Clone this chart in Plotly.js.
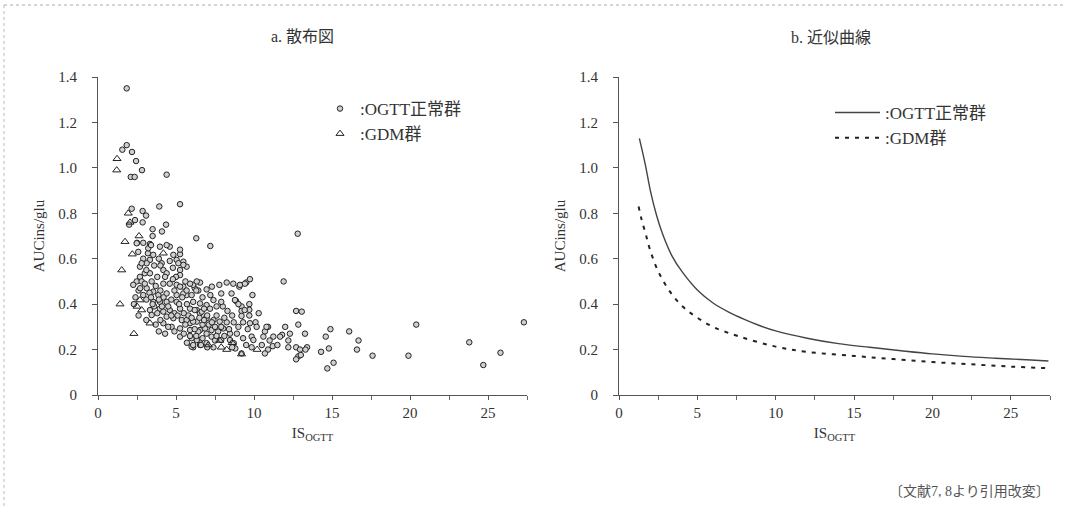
<!DOCTYPE html>
<html>
<head>
<meta charset="utf-8">
<script src="https://cdn.plot.ly/plotly-3.0.1.min.js"></script>
<style>html,body{margin:0;padding:0;background:#fff;}#chart{width:1066px;height:506px;}</style>
</head>
<body>
<div id="chart"></div>
<script>
// ---- Data ----
const normalX = [1.84,1.56,1.84,2.18,2.44,2.82,2.1,2.35,4.4,3.93,5.26,2.16,2.86,3.08,2.37,2.0,2.86,4.36,3.5,2.5,3.33,6.3,7.2,12.8,11.9,12.7,13.06,12.84,11.8,12.3,12.2,12.2,12.7,12.95,13.27,13.4,13.3,12.84,13.0,12.7,14.9,14.6,14.8,14.3,15.1,14.7,16.1,16.7,16.6,17.6,19.9,20.4,23.8,24.7,25.8,27.3,
8.25,9.06,9.5,9.74,8.56,9.9,8.85,9.7,9.2,9.2,9.7,9.2,9.7,10.1,9.74,9.3,8.7,8.25,9.6,10.9,10.7,11.67,9.85,9.96,9.85,11.2,10.9,10.7,9.2,8.8,8.7,8.46,7.9,7.4,6.96,6.54,6.1,
5.68,5.47,5.26,6.54,6.2,7.3,7.78,7.9,2.48,4.6,5.26,3.2,3.54,2.58,3.33,3.12,5.04,5.47,4.08,2.69,3.0,3.33,4.19,4.4,5.26,5.26,2.69,2.48,2.8,3.44,2.26,3.12,4.19,4.6,5.04,5.47,6.1,3.54,3.87,4.4,5.04,5.68,3.54,3.97,4.4,5.04,6.1,6.54,6.96,3.33,3.97,4.19,4.6,5.26,5.9,6.33,6.54,6.96,3.44,4.4,4.83,5.37,4.19,4.72,5.26,5.9,6.33,6.54,6.96,5.26,6.33,6.54,6.0,
5.26,5.47,5.68,5.9,6.33,6.43,7.4,7.6,7.18,6.65,6.2,5.68,6.1,6.96,7.4,7.8,5.9,6.43,6.86,7.28,7.7,6.0,7.28,8.46,8.03,8.67,9.1,9.42,8.78,6.96,6.3,10.17,10.8,11.24,10.6,3.22,3.97,4.4,4.83,5.15,9.4,6.1,
2.9,3.1,3.3,2.6,2.4,3.7,3.8,4.0,4.2,4.7,4.9,3.6,3.8,4.9,5.1,5.5,5.7,5.8,6.0,6.7,6.8,7.1,7.5,7.6,8.1,8.3,8.0,7.9,4.5,4.9,5.5,5.7,6.3,6.7,7.0,7.5,8.1,8.9,9.0,4.0,3.7,3.9,4.3,2.9,3.6,2.3,2.6,3.1,5.0,5.6,6.0,7.2,6.7,10.3,10.5,11.5,11.0,12.0,9.3,8.6,9.5,3.5,4.1,4.6,3.9,4.8,
2.7,3.0,3.4,3.5,3.9,4.1,4.5,4.7,5.2,5.4,5.6,5.9,6.2,6.5,6.8,7.0,7.3,7.6,7.9,8.4,8.6,9.0,4.3,4.8,3.1,2.8,3.4,2.9,4.0,6.6];
const normalY = [1.35,1.08,1.10,1.07,1.03,0.99,0.96,0.96,0.97,0.83,0.84,0.82,0.81,0.79,0.77,0.75,0.76,0.75,0.70,0.67,0.665,0.69,0.656,0.71,0.50,0.37,0.367,0.31,0.265,0.27,0.24,0.21,0.21,0.20,0.27,0.21,0.20,0.17,0.176,0.157,0.29,0.257,0.205,0.19,0.142,0.117,0.28,0.24,0.20,0.173,0.173,0.31,0.232,0.132,0.186,0.32,
0.495,0.477,0.495,0.51,0.447,0.44,0.414,0.40,0.39,0.37,0.375,0.348,0.35,0.32,0.316,0.32,0.32,0.32,0.29,0.30,0.28,0.257,0.257,0.242,0.21,0.215,0.20,0.183,0.183,0.205,0.228,0.242,0.242,0.21,0.228,0.242,0.21,
0.565,0.587,0.62,0.495,0.47,0.477,0.485,0.447,0.668,0.653,0.64,0.624,0.617,0.63,0.595,0.58,0.595,0.573,0.58,0.565,0.536,0.536,0.55,0.536,0.55,0.528,0.52,0.50,0.50,0.50,0.485,0.47,0.49,0.49,0.485,0.477,0.485,0.455,0.44,0.447,0.44,0.44,0.41,0.41,0.41,0.41,0.41,0.403,0.396,0.374,0.38,0.367,0.374,0.38,0.38,0.374,0.36,0.345,0.352,0.345,0.338,0.33,0.316,0.30,0.293,0.316,0.323,0.286,0.27,0.257,0.242,0.22,0.213,
0.477,0.447,0.46,0.49,0.50,0.46,0.418,0.39,0.38,0.367,0.374,0.33,0.323,0.338,0.33,0.323,0.286,0.279,0.293,0.286,0.279,0.25,0.257,0.27,0.293,0.49,0.485,0.49,0.418,0.465,0.46,0.30,0.30,0.257,0.257,0.646,0.653,0.66,0.617,0.58,0.374,0.22,
0.44,0.42,0.45,0.46,0.43,0.48,0.52,0.46,0.43,0.42,0.46,0.39,0.36,0.36,0.35,0.36,0.40,0.35,0.34,0.31,0.33,0.31,0.30,0.35,0.34,0.37,0.39,0.41,0.30,0.28,0.27,0.23,0.26,0.25,0.21,0.24,0.26,0.27,0.30,0.33,0.31,0.28,0.27,0.60,0.57,0.40,0.35,0.33,0.52,0.50,0.44,0.44,0.43,0.36,0.22,0.22,0.24,0.30,0.25,0.21,0.22,0.73,0.72,0.59,0.60,0.56,
0.47,0.49,0.43,0.40,0.42,0.39,0.39,0.35,0.40,0.43,0.31,0.26,0.29,0.34,0.38,0.35,0.32,0.26,0.30,0.29,0.35,0.40,0.52,0.51,0.55,0.58,0.66,0.67,0.57,0.22];

const gdmX = [1.22,1.2,1.94,2.05,1.73,2.63,1.52,1.41,2.3,2.69,2.8,3.33,4.19,2.5,2.2,7.9,8.25,8.6,7.8,7.07,9.2,10.2];
const gdmY = [1.04,0.99,0.80,0.76,0.675,0.70,0.55,0.40,0.27,0.418,0.374,0.316,0.624,0.39,0.62,0.21,0.20,0.23,0.24,0.22,0.18,0.20];

const fitNormalX = [1.3,1.5,1.72,2.0,2.4,2.8,3.36,4,5,6,7,8,9,10,12,14,16,18,20,22,24,26,27.4];
const fitNormalY = [1.13,1.07,1.0,0.9,0.79,0.705,0.615,0.545,0.462,0.405,0.365,0.333,0.305,0.282,0.25,0.226,0.21,0.195,0.181,0.17,0.162,0.155,0.15];
const fitGdmX = [1.25,1.45,1.7,2.0,2.5,3.25,4.1,4.9,6,7.7,10,12,15,17.5,20,22.5,25,27.4];
const fitGdmY = [0.83,0.77,0.71,0.635,0.545,0.455,0.387,0.345,0.30,0.257,0.213,0.19,0.172,0.158,0.145,0.135,0.125,0.118];

const xTickVals = [0,5,10,15,20,25];
const xTickText = ['0','5','10','15','20','25'];
const xMinorVals = [2.5,7.5,12.5,17.5,22.5,27.5];
const yTickVals = [0,0.2,0.4,0.6,0.8,1.0,1.2,1.4];
const yTickText = ['0','0.2','0.4','0.6','0.8','1.0','1.2','1.4'];

const panelTitles = ['a. 散布図','b. 近似曲線'];
const seriesNames = [':OGTT正常群',':GDM群'];
const yTitle = 'AUCins/glu';
const xTitle = 'IS<sub>OGTT</sub>';
const caption = '〔文献7, 8より引用改変〕';

// ---- Layout helpers ----
const W = 1066, H = 506;
const fx = p => p / W;
const fy = p => 1 - p / H;
const FONT = "'Liberation Serif', 'Noto Sans CJK JP', serif";
const INK = '#333';

function xAxis(d0, d1, anchor) {
  return {
    domain: [fx(d0), fx(d1)], range: [0, 27.5], anchor: anchor,
    tickmode: 'array', tickvals: xTickVals, ticktext: xTickText,
    minor: {tickmode: 'array', tickvals: xMinorVals, ticks: 'outside', ticklen: 4, tickcolor: '#666', tickwidth: 1, showgrid: false},
    showline: true, linecolor: '#555', linewidth: 1,
    ticks: 'outside', ticklen: 4, tickcolor: '#555', tickwidth: 1,
    showgrid: false, zeroline: false, fixedrange: true,
    tickfont: {family: FONT, size: 15, color: INK},
    title: {text: xTitle, font: {family: FONT, size: 15, color: INK}, standoff: 7}
  };
}
function yAxis(anchor) {
  return {
    domain: [fy(395), fy(77)], range: [0, 1.4], anchor: anchor,
    tickmode: 'array', tickvals: yTickVals, ticktext: yTickText,
    showline: true, linecolor: '#555', linewidth: 1,
    ticks: 'outside', ticklen: 5, tickcolor: '#555', tickwidth: 1,
    ticklabelstandoff: 12,
    showgrid: false, zeroline: false, fixedrange: true,
    tickfont: {family: FONT, size: 15, color: INK},
    title: {text: yTitle, font: {family: FONT, size: 15, color: INK}, standoff: 10}
  };
}

const traces = [
  {x: normalX, y: normalY, xaxis: 'x', yaxis: 'y', type: 'scatter', mode: 'markers',
   name: seriesNames[0], legend: 'legend',
   marker: {symbol: 'circle', size: 5.5, color: '#d0d0d0', line: {color: '#222', width: 1}}},
  {x: gdmX, y: gdmY, xaxis: 'x', yaxis: 'y', type: 'scatter', mode: 'markers',
   name: seriesNames[1], legend: 'legend',
   marker: {symbol: 'triangle-up-open', size: 7, color: '#222', line: {color: '#222', width: 1}}},
  {x: fitNormalX, y: fitNormalY, xaxis: 'x2', yaxis: 'y2', type: 'scatter', mode: 'lines',
   name: seriesNames[0], legend: 'legend2',
   line: {color: '#444', width: 1.4, shape: 'spline', smoothing: 1}},
  {x: fitGdmX, y: fitGdmY, xaxis: 'x2', yaxis: 'y2', type: 'scatter', mode: 'lines',
   name: seriesNames[1], legend: 'legend2',
   line: {color: '#222', width: 2, dash: '4px,6px', shape: 'spline', smoothing: 1}}
];

const layout = {
  width: W, height: H,
  margin: {l: 0, r: 0, t: 0, b: 0},
  paper_bgcolor: '#fff', plot_bgcolor: 'rgba(0,0,0,0)',
  font: {family: FONT, size: 15, color: INK},
  xaxis: xAxis(98, 527, 'y'),
  yaxis: yAxis('x'),
  xaxis2: xAxis(619, 1050, 'y2'),
  yaxis2: yAxis('x2'),
  legend: {x: fx(320), y: fy(91), xanchor: 'left', yanchor: 'top',
           bgcolor: 'rgba(0,0,0,0)', font: {family: FONT, size: 17, color: INK}},
  legend2: {x: fx(830), y: fy(95), xanchor: 'left', yanchor: 'top', itemwidth: 45,
            bgcolor: 'rgba(0,0,0,0)', font: {family: FONT, size: 17, color: INK}},
  annotations: [
    {text: panelTitles[0], xref: 'paper', yref: 'paper', x: fx(302), y: fy(36),
     xanchor: 'center', yanchor: 'middle', showarrow: false, font: {family: FONT, size: 16, color: INK}},
    {text: panelTitles[1], xref: 'paper', yref: 'paper', x: fx(831), y: fy(37),
     xanchor: 'center', yanchor: 'middle', showarrow: false, font: {family: FONT, size: 16, color: INK}},
    {text: caption, xref: 'paper', yref: 'paper', x: fx(1052), y: fy(491),
     xanchor: 'right', yanchor: 'middle', showarrow: false, font: {family: FONT, size: 14, color: '#555'}}
  ],
  shapes: [
    {type: 'line', xref: 'paper', yref: 'paper', x0: fx(4), x1: fx(1066), y0: fy(5), y1: fy(5),
     line: {color: '#aaa', width: 1, dash: 'dot'}},
    {type: 'line', xref: 'paper', yref: 'paper', x0: fx(4), x1: fx(4), y0: fy(5), y1: fy(506),
     line: {color: '#bbb', width: 1, dash: 'dot'}}
  ],
  showlegend: true
};

Plotly.newPlot('chart', traces, layout, {displayModeBar: false, staticPlot: true});
</script>
</body>
</html>
